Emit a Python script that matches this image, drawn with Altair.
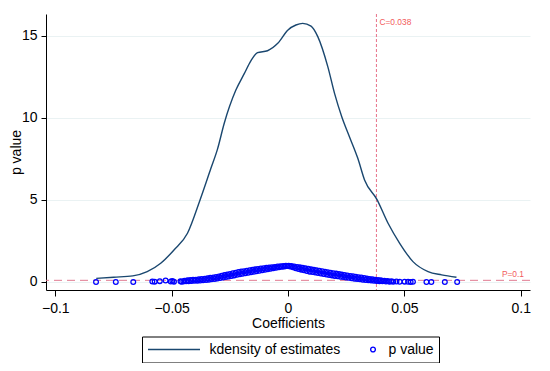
import altair as alt
import pandas as pd

# ---- data ----
series = ["kdensity of estimates", "p value"]

dens_x = [-0.0824, -0.0749, -0.0667, -0.0605, -0.0547, -0.0490, -0.0432, -0.0378,
          -0.0332, -0.0303, -0.0274, -0.0224, -0.0188, -0.0159, -0.0131, -0.0088,
          -0.0044, 0.0000, 0.0034, 0.0063, 0.0099, 0.0128, 0.0171, 0.0200, 0.0231,
          0.0264, 0.0300, 0.0329, 0.0382, 0.0430, 0.0480, 0.0537, 0.0602, 0.0660, 0.0724]
dens_y = [0.22, 0.29, 0.37, 0.63, 1.14, 1.95, 2.97, 5.00,
          6.90, 8.10, 9.68, 11.70, 12.70, 13.50, 13.98, 14.10,
          14.55, 15.37, 15.67, 15.77, 15.60, 14.96, 13.13, 11.50, 10.08,
          8.86, 7.54, 6.22, 5.04, 3.58, 2.36, 1.24, 0.63, 0.43, 0.29]

pv_coef = [
    -0.0825, -0.0740, -0.0665, -0.0583, -0.0573, -0.0551, -0.0526, -0.0504, -0.0497, -0.0490,
    -0.0462, -0.0458, -0.0450, -0.0445, -0.0438, -0.0432, -0.0427, -0.0420, -0.0414, -0.0408,
    -0.0401, -0.0396, -0.0389, -0.0383, -0.0377, -0.0371, -0.0365, -0.0358, -0.0352, -0.0346,
    -0.0340, -0.0334, -0.0328, -0.0321, -0.0315, -0.0309, -0.0303, -0.0297, -0.0291, -0.0285,
    -0.0279, -0.0273, -0.0267, -0.0261, -0.0255, -0.0249, -0.0243, -0.0237, -0.0231, -0.0225,
    -0.0219, -0.0213, -0.0207, -0.0201, -0.0195, -0.0189, -0.0183, -0.0177, -0.0171, -0.0165,
    -0.0159, -0.0153, -0.0147, -0.0141, -0.0135, -0.0129, -0.0123, -0.0117, -0.0111, -0.0105,
    -0.0099, -0.0093, -0.0087, -0.0081, -0.0075, -0.0069, -0.0063, -0.0057, -0.0051, -0.0045,
    -0.0039, -0.0033, -0.0027, -0.0021, -0.0015, -0.0009, -0.0003,
    0.0003, 0.0009, 0.0015, 0.0021, 0.0027, 0.0033, 0.0039, 0.0045, 0.0051, 0.0057,
    0.0063, 0.0069, 0.0075, 0.0081, 0.0087, 0.0093, 0.0099, 0.0105, 0.0111, 0.0117,
    0.0123, 0.0129, 0.0135, 0.0141, 0.0147, 0.0153, 0.0159, 0.0165, 0.0171, 0.0177,
    0.0183, 0.0189, 0.0195, 0.0201, 0.0207, 0.0213, 0.0219, 0.0225, 0.0231, 0.0237,
    0.0243, 0.0249, 0.0255, 0.0261, 0.0267, 0.0273, 0.0279, 0.0285, 0.0291, 0.0297,
    0.0303, 0.0309, 0.0315, 0.0321, 0.0327, 0.0333, 0.0339, 0.0345, 0.0351, 0.0357,
    0.0363, 0.0369, 0.0375, 0.0381, 0.0387, 0.0393, 0.0399, 0.0406, 0.0414, 0.0421,
    0.0428, 0.0436, 0.0444, 0.0452, 0.0466, 0.0480, 0.0501, 0.0516, 0.0527, 0.0537,
    0.0595, 0.0616, 0.0674, 0.0727]
pv_p = [
    0.00, 0.00, 0.00, 0.03, 0.02, 0.05, 0.09, 0.03, 0.06, 0.02,
    0.04, 0.01, 0.03, 0.08, 0.04, 0.10, 0.05, 0.12, 0.06, 0.14,
    0.07, 0.14, 0.08, 0.16, 0.09, 0.18, 0.10, 0.20, 0.12, 0.22,
    0.14, 0.25, 0.16, 0.28, 0.18, 0.31, 0.21, 0.34, 0.24, 0.38,
    0.27, 0.42, 0.30, 0.46, 0.33, 0.49, 0.36, 0.53, 0.40, 0.56,
    0.44, 0.61, 0.47, 0.64, 0.50, 0.66, 0.53, 0.69, 0.56, 0.72,
    0.59, 0.74, 0.62, 0.77, 0.65, 0.79, 0.68, 0.82, 0.71, 0.84,
    0.74, 0.86, 0.77, 0.88, 0.80, 0.90, 0.83, 0.92, 0.86, 0.94,
    0.89, 0.96, 0.92, 0.98, 0.95, 0.99, 0.98,
    0.99, 0.94, 0.97, 0.89, 0.94, 0.84, 0.91, 0.79, 0.89, 0.75,
    0.86, 0.71, 0.83, 0.67, 0.80, 0.63, 0.77, 0.60, 0.74, 0.57,
    0.71, 0.54, 0.68, 0.51, 0.65, 0.48, 0.62, 0.45, 0.59, 0.42,
    0.56, 0.40, 0.53, 0.37, 0.51, 0.35, 0.48, 0.32, 0.45, 0.30,
    0.43, 0.27, 0.40, 0.25, 0.37, 0.22, 0.35, 0.20, 0.32, 0.18,
    0.29, 0.16, 0.27, 0.14, 0.24, 0.12, 0.21, 0.10, 0.18, 0.09,
    0.16, 0.07, 0.14, 0.06, 0.12, 0.05, 0.10, 0.04, 0.08, 0.03,
    0.06, 0.02, 0.05, 0.02, 0.03, 0.01, 0.02, 0.01, 0.00, 0.01,
    0.00, 0.00, 0.00, 0.00]

x_ticks = [-0.1, -0.05, 0, 0.05, 0.1]
y_ticks = [0, 5, 10, 15]
c_line = [0.038]
c_label = ["C=0.038"]
p_line = [0.1]
p_label = ["P=0.1"]

FONT = "Liberation Sans"

dens = pd.DataFrame({"coef": dens_x, "val": dens_y, "series": series[0]})
pts = pd.DataFrame({"coef": pv_coef, "val": pv_p, "series": series[1]})
cdf = pd.DataFrame({"c": c_line, "label": c_label})
pdf = pd.DataFrame({"p": p_line, "label": p_label})

xscale = alt.Scale(domain=[-0.104, 0.104], nice=False, zero=False)
yscale = alt.Scale(domain=[-0.49, 16.34], nice=False, zero=False)

xaxis = alt.Axis(values=x_ticks, format=".2~f", title="Coefficients", grid=False,
                 tickSize=6, labelPadding=5, titlePadding=1)
yaxis = alt.Axis(values=y_ticks, title="p value", grid=True, labelAngle=0,
                 tickSize=5, labelPadding=4, titlePadding=-2)

color_scale = alt.Scale(domain=series, range=["#1a476f", "#0000ff"])
shape_scale = alt.Scale(domain=series, range=["stroke", "circle"])
size_scale = alt.Scale(domain=series, range=[2704, 22])

legend = alt.Legend(title=None, orient="none", legendX=96, legendY=322.5,
                    direction="horizontal", padding=5, clipHeight=15.5,
                    labelOffset=8.5, columnPadding=25, strokeColor="#000000",
                    fillColor="#ffffff", symbolStrokeWidth=1.4,
                    labelFont=FONT, labelFontSize=14, labelColor="#000000")

line = alt.Chart(dens).mark_line(strokeWidth=1.4, interpolate="monotone").encode(
    x=alt.X("coef:Q", scale=xscale, axis=xaxis),
    y=alt.Y("val:Q", scale=yscale, axis=yaxis),
    color=alt.Color("series:N", scale=color_scale, legend=legend),
)

points = alt.Chart(pts).mark_point(filled=False, strokeWidth=1.3, opacity=1).encode(
    x=alt.X("coef:Q", scale=xscale),
    y=alt.Y("val:Q", scale=yscale),
    color=alt.Color("series:N", scale=color_scale, legend=legend),
    shape=alt.Shape("series:N", scale=shape_scale, legend=legend),
    size=alt.Size("series:N", scale=size_scale, legend=legend),
)

vrule = alt.Chart(cdf).mark_rule(color="#e8728a", strokeDash=[3, 2], strokeWidth=1).encode(
    x=alt.X("c:Q", scale=xscale))
vtext = alt.Chart(cdf).mark_text(align="left", baseline="middle", dx=3, fontSize=8.4,
                                 font=FONT, color="#f25c5c").encode(
    x=alt.X("c:Q", scale=xscale), y=alt.value(7.5), text="label:N")

hrule = alt.Chart(pdf).mark_rule(color="#e07a90", strokeDash=[8, 5], strokeWidth=1).encode(
    y=alt.Y("p:Q", scale=yscale))
htext = alt.Chart(pdf).mark_text(align="right", baseline="bottom", dy=-1, fontSize=8.4,
                                 font=FONT, color="#f25c5c").encode(
    x=alt.value(478), y=alt.Y("p:Q", scale=yscale), text="label:N")

chart = alt.layer(hrule, vrule, line, points, vtext, htext).properties(
    width=484, height=276,
    autosize=alt.AutoSizeParams(type="none"),
    padding={"left": 38, "top": 6, "right": 12, "bottom": 73},
).configure_view(stroke=None).configure_axis(
    labelFont=FONT, labelFontSize=14, labelColor="#000000",
    titleFont=FONT, titleFontSize=14, titleColor="#000000", titleFontWeight="normal",
    domainColor="#000000", tickColor="#000000", domainWidth=1, tickWidth=1,
    gridColor="#eaf2f3", gridWidth=1,
)

chart.save("out.html", embed_options={"renderer": "svg", "actions": False})
